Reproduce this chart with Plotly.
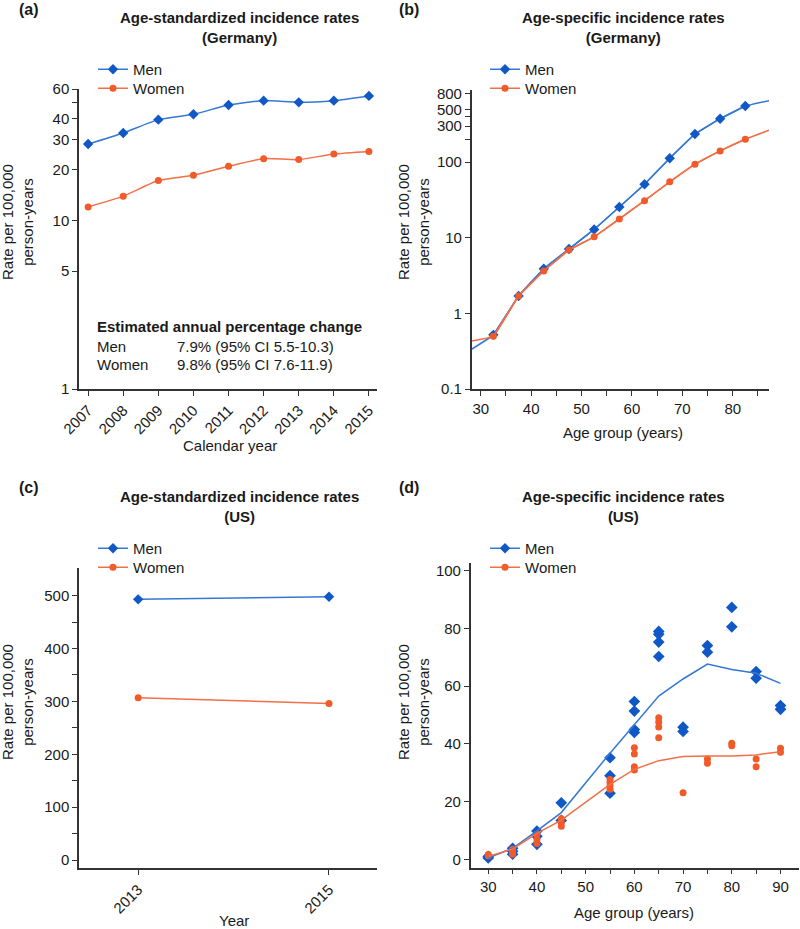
import plotly.graph_objects as go

# ---------------- data ----------------
years_de = [2007, 2008, 2009, 2010, 2011, 2012, 2013, 2014, 2015]
de_std_men = [28.3, 32.9, 39.5, 42.5, 48.2, 51.2, 50.0, 51.2, 54.6]
de_std_women = [12.0, 13.9, 17.2, 18.5, 20.9, 23.2, 22.9, 24.7, 25.6]

age_mid_de = [32.5, 37.5, 42.5, 47.5, 52.5, 57.5, 62.5, 67.5, 72.5, 77.5, 82.5]
de_age_men = [0.52, 1.70, 3.9, 7.1, 12.9, 25.5, 51, 113, 236, 376, 553]
de_age_women = [0.50, 1.70, 3.64, 6.9, 10.3, 17.7, 31, 55, 94, 141, 201]
# fitted line, including its extension past the first / last age group
age_line_de = [27, 32.5, 37.5, 42.5, 47.5, 52.5, 57.5, 62.5, 67.5, 72.5, 77.5, 82.5, 88]
de_line_men = [0.30, 0.52, 1.70, 3.9, 7.1, 12.9, 25.5, 51, 113, 236, 376, 553, 668]
de_line_women = [0.42, 0.50, 1.70, 3.64, 6.9, 10.3, 17.7, 31, 55, 94, 141, 201, 277]

years_us = [2013, 2015]
us_std_men = [493, 498]
us_std_women = [307, 296]

ages_us = [30, 35, 40, 45, 55, 60, 65, 70, 75, 80, 85, 90]
us_men_points = [[0.5, 1.0], [3.8, 2.8, 1.8], [9.8, 8.0, 5.2], [19.6, 13.5],
                 [35.2, 29.0, 22.9], [54.7, 51.4, 45.0, 44.0], [79.0, 78.0, 75.3, 70.3],
                 [45.8, 44.3], [74.1, 71.8], [87.3, 80.6], [65.1, 62.8], [53.3, 52.0]]
us_women_points = [[1.7, 1.2], [3.5, 2.6, 1.8], [8.7, 6.9, 5.5], [14.1, 12.7, 11.5],
                   [27.7, 26.6, 25.4, 24.3], [38.7, 36.5, 32.1, 31.0], [49.1, 47.6, 45.9, 42.1],
                   [23.1], [34.8, 33.3], [40.2, 39.4], [34.8, 32.1], [38.5, 37.1]]
us_line_men = [0.5, 3.8, 9.9, 16.2, 36.8, 46.6, 56.6, 62.5, 67.7, 65.8, 64.5, 61.0]
us_line_women = [1.0, 3.6, 9.0, 13.6, 26.0, 31.2, 34.2, 35.6, 35.8, 35.8, 36.2, 37.3]

apc_labels = ["Men", "Women"]
apc_values = ["7.9% (95% CI 5.5-10.3)", "9.8% (95% CI 7.6-11.9)"]

# ---------------- style ----------------
W, H = 800, 929
FONT = "Liberation Sans, Arial, Helvetica, sans-serif"
TXT = "#1a1a1a"
BLUE_M, BLUE_L = "#1158c7", "#3478d4"
ORG_M, ORG_L = "#f15a29", "#f26f47"
AXC = "#333333"


def px(x):
    return x / W


def py(y):
    return 1 - y / H


fig = go.Figure()


def men_style():
    return dict(marker=dict(symbol="diamond", size=8, color=BLUE_M),
                line=dict(color=BLUE_L, width=1.5))


def women_style():
    return dict(marker=dict(symbol="circle", size=7, color=ORG_M),
                line=dict(color=ORG_L, width=1.5))


# (a)
fig.add_trace(go.Scatter(x=years_de, y=de_std_men, name="Men", mode="lines+markers",
                         line_shape="spline", xaxis="x", yaxis="y", legend="legend",
                         **men_style()))
fig.add_trace(go.Scatter(x=years_de, y=de_std_women, name="Women", mode="lines+markers",
                         line_shape="spline", xaxis="x", yaxis="y", legend="legend2",
                         **women_style()))
fig.data[0].line.smoothing = 0.6
fig.data[1].line.smoothing = 0.6

# (b)
fig.add_trace(go.Scatter(x=age_line_de, y=de_line_men, mode="lines", showlegend=False,
                         xaxis="x2", yaxis="y2", line=dict(color=BLUE_L, width=1.5),
                         line_shape="spline", hoverinfo="skip"))
fig.add_trace(go.Scatter(x=age_mid_de, y=de_age_men, name="Men", mode="lines+markers",
                         xaxis="x2", yaxis="y2", legend="legend3", **men_style()))
fig.add_trace(go.Scatter(x=age_line_de, y=de_line_women, mode="lines", showlegend=False,
                         xaxis="x2", yaxis="y2", line=dict(color=ORG_L, width=1.5),
                         line_shape="spline", hoverinfo="skip"))
fig.add_trace(go.Scatter(x=age_mid_de, y=de_age_women, name="Women", mode="lines+markers",
                         xaxis="x2", yaxis="y2", legend="legend4", **women_style()))
fig.data[2].line.smoothing = 0.3
fig.data[4].line.smoothing = 0.3

# (c)
fig.add_trace(go.Scatter(x=years_us, y=us_std_men, name="Men", mode="lines+markers",
                         xaxis="x3", yaxis="y3", legend="legend5", **men_style()))
fig.add_trace(go.Scatter(x=years_us, y=us_std_women, name="Women", mode="lines+markers",
                         xaxis="x3", yaxis="y3", legend="legend6", **women_style()))

# (d)
mx, my, wx, wy = [], [], [], []
for a, vals in zip(ages_us, us_men_points):
    mx += [a] * len(vals)
    my += vals
for a, vals in zip(ages_us, us_women_points):
    wx += [a] * len(vals)
    wy += vals

fig.add_trace(go.Scatter(x=mx, y=my, mode="markers", showlegend=False, xaxis="x4", yaxis="y4",
                         marker=dict(symbol="diamond", size=9, color=BLUE_M)))
fig.add_trace(go.Scatter(x=wx, y=wy, mode="markers", showlegend=False, xaxis="x4", yaxis="y4",
                         marker=dict(symbol="circle", size=7, color=ORG_M)))
fig.add_trace(go.Scatter(x=ages_us, y=us_line_men, mode="lines", showlegend=False,
                         xaxis="x4", yaxis="y4", line=dict(color=BLUE_L, width=1.5)))
fig.add_trace(go.Scatter(x=ages_us, y=us_line_women, mode="lines", showlegend=False,
                         xaxis="x4", yaxis="y4", line=dict(color=ORG_L, width=1.5)))
# legend entries for (d)
fig.add_trace(go.Scatter(x=[None], y=[None], name="Men", mode="lines+markers",
                         xaxis="x4", yaxis="y4", legend="legend7", **men_style()))
fig.add_trace(go.Scatter(x=[None], y=[None], name="Women", mode="lines+markers",
                         xaxis="x4", yaxis="y4", legend="legend8", **women_style()))

# ---------------- axes ----------------
ax_common = dict(showline=True, linecolor=AXC, linewidth=1.5, ticks="outside", ticklen=5,
                 tickwidth=1.2, tickcolor=AXC, showgrid=False, zeroline=False,
                 automargin=False, mirror=False,
                 tickfont=dict(family=FONT, size=15, color=TXT))

age_ticks_b = [30, 35, 40, 45, 50, 55, 60, 65, 70, 75, 80, 85]
age_ticks_d = [30, 35, 40, 45, 50, 55, 60, 65, 70, 75, 80, 85, 90]

fig.update_layout(
    template="none",
    xaxis=dict(domain=[px(79), px(377)], range=[2006.74, 2015.23], anchor="y",
               tickvals=years_de, ticktext=[str(v) for v in years_de], tickangle=-45,
               **ax_common),
    yaxis=dict(domain=[py(389), py(89)], type="log", range=[0, 1.7782], anchor="x",
               tickvals=[1, 5, 10, 20, 30, 40, 50, 60],
               ticktext=["1", "5", "10", "20", "30", "40", "", "60"], **ax_common),
    xaxis2=dict(domain=[px(471.7), px(769)], range=[28.2, 87.2], anchor="y2",
                tickvals=age_ticks_b,
                ticktext=[str(v) if v % 10 == 0 else "" for v in age_ticks_b], **ax_common),
    yaxis2=dict(domain=[py(389), py(90)], type="log", range=[-1, 2.955], anchor="x2",
                tickvals=[0.1, 1, 10, 100, 200, 300, 400, 500, 800],
                ticktext=["0.1", "1", "10", "100", "", "300", "", "500", "800"], **ax_common),
    xaxis3=dict(domain=[px(79), px(376.7)], range=[2012.38, 2015.5], anchor="y3",
                tickvals=years_us, ticktext=[str(v) for v in years_us], tickangle=-45,
                **ax_common),
    yaxis3=dict(domain=[py(868.3), py(568.3)], range=[-15.7, 551.7], anchor="x3",
                tickvals=list(range(0, 501, 50)),
                ticktext=[str(v) if v % 100 == 0 else "" for v in range(0, 501, 50)],
                **ax_common),
    xaxis4=dict(domain=[px(470.7), px(799)], range=[26.4, 93.8], anchor="y4",
                tickvals=age_ticks_d,
                ticktext=[str(v) if v % 10 == 0 else "" for v in age_ticks_d], **ax_common),
    yaxis4=dict(domain=[py(867.7), py(563.3)], range=[-2.9, 102.6], anchor="x4",
                tickvals=list(range(0, 101, 20)), **ax_common),
)

# ---------------- legends (one entry each, to control row spacing) ----------------
leg_common = dict(font=dict(family=FONT, size=15, color=TXT), bgcolor="rgba(0,0,0,0)",
                  borderwidth=0, xanchor="left", yanchor="top", traceorder="normal",
                  itemclick=False, itemdoubleclick=False, tracegroupgap=0)
leg_pos = {"legend": (93, 53), "legend2": (93, 72),
           "legend3": (485, 53), "legend4": (485, 72),
           "legend5": (93, 532), "legend6": (93, 551),
           "legend7": (485, 532), "legend8": (485, 551)}
fig.update_layout(**{k: dict(x=px(x), y=py(y), **leg_common) for k, (x, y) in leg_pos.items()})

# ---------------- annotations ----------------
ann = []


def text(x, y, s, size=15, bold=False, xanchor="center", angle=0):
    if bold:
        s = "<b>" + s + "</b>"
    ann.append(dict(x=px(x), y=py(y), xref="paper", yref="paper", text=s, showarrow=False,
                    xanchor=xanchor, yanchor="middle", textangle=angle,
                    font=dict(family=FONT, size=size, color=TXT)))


# panel letters
text(17, 9, "(a)", size=16, bold=True, xanchor="left")
text(397, 9, "(b)", size=16, bold=True, xanchor="left")
text(17, 487, "(c)", size=16, bold=True, xanchor="left")
text(397, 487, "(d)", size=16, bold=True, xanchor="left")

# titles
text(239, 27, "Age-standardized incidence rates<br>(Germany)", bold=True)
text(623, 27, "Age-specific incidence rates<br>(Germany)", bold=True)
text(239, 506, "Age-standardized incidence rates<br>(US)", bold=True)
text(623, 506, "Age-specific incidence rates<br>(US)", bold=True)

# y titles
ytitle = "Rate per 100,000<br>person-years"
text(17, 222, ytitle, angle=-90)
text(413, 222, ytitle, angle=-90)
text(17, 702, ytitle, angle=-90)
text(413, 702, ytitle, angle=-90)

# x titles
text(230, 445, "Calendar year")
text(623, 433, "Age group (years)")
text(234, 920, "Year")
text(634, 912, "Age group (years)")

# APC box in (a)
text(95, 327, "Estimated annual percentage change", bold=True, xanchor="left")
for i, (lab, val) in enumerate(zip(apc_labels, apc_values)):
    text(95, 346 + 18.5 * i, lab, xanchor="left")
    text(175, 346 + 18.5 * i, val, xanchor="left")

fig.update_layout(annotations=ann, width=W, height=H,
                  margin=dict(l=0, r=0, t=0, b=0, autoexpand=False),
                  paper_bgcolor="white", plot_bgcolor="white",
                  font=dict(family=FONT, size=15, color=TXT))

fig.write_html("out.html", config={"displayModeBar": False},
               post_script="document.body.style.margin='0';document.body.style.overflow='hidden';")
